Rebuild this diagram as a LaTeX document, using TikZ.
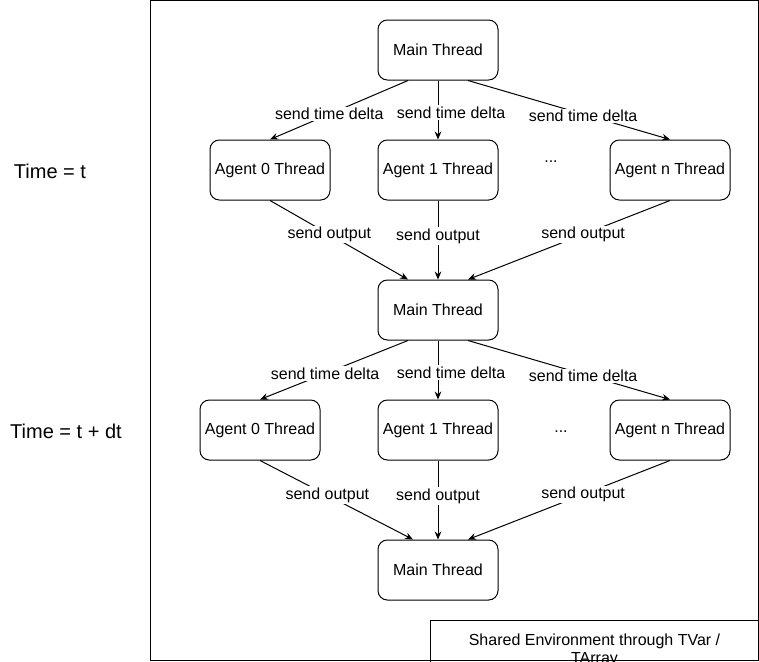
\documentclass[tikz,border=0pt]{standalone}
\usepackage{fontspec}
\setmainfont{Liberation Sans}
\usetikzlibrary{arrows.meta,calc}
\begin{document}
\begin{tikzpicture}[x=0.75pt,y=-0.75pt, line width=0.75pt,
  box/.style={draw, rounded corners=7pt, minimum width=90pt, minimum height=45pt, inner sep=0pt, font=\fontsize{12}{14}\selectfont},
  lbl/.style={fill=white, inner sep=1pt, font=\fontsize{12}{14}\selectfont},
  txt/.style={inner sep=0pt, font=\fontsize{12}{14}\selectfont},
  big/.style={inner sep=0pt, font=\fontsize{15}{18}\selectfont},
  arr/.style={-{Stealth[length=6pt,width=5pt]}},
  ]
\useasboundingbox (0,0) rectangle (759,661);
\draw (150.5,0.5) rectangle (758.5,660.5);

\node[big] (t1) at (50,171) {Time = t};
\node[big] (t2) at (66,431) {Time = t + dt};

\node[box] (m1) at (438,50) {Main Thread};
\node[box] (a10) at (270,170) {Agent 0 Thread};
\node[box] (a11) at (438,170) {Agent 1 Thread};
\node[box] (a1n) at (670,170) {Agent n Thread};
\node[txt] (d1) at (551,162) {...};
\node[box] (m2) at (438,310) {Main Thread};
\node[box] (a20) at (260,430) {Agent 0 Thread};
\node[box] (a21) at (438,430) {Agent 1 Thread};
\node[box] (a2n) at (670,430) {Agent n Thread};
\node[txt] (d2) at (561,432) {...};
\node[box] (m3) at (438,570) {Main Thread};

\draw[arr] ($(m1.south)+(-30,0)$) -- node[lbl,pos=0.57]{send time delta} (a10.north);
\draw[arr] (m1.south) -- node[lbl,pos=0.54,xshift=9.75pt]{send time delta} (a11.north);
\draw[arr] ($(m1.south)+(30,0)$) -- node[lbl,pos=0.57,yshift=-1.5pt]{send time delta} (a1n.north);

\draw[arr] (a10.south) -- node[lbl,pos=0.43]{send output} ($(m2.north)+(-30,0)$);
\draw[arr] (a11.south) -- node[lbl,pos=0.45]{send output} (m2.north);
\draw[arr] (a1n.south) -- node[lbl,pos=0.43]{send output} ($(m2.north)+(30,0)$);

\draw[arr] ($(m2.south)+(-30,0)$) -- node[lbl,pos=0.56]{send time delta} (a20.north);
\draw[arr] (m2.south) -- node[lbl,pos=0.54,xshift=9.75pt]{send time delta} (a21.north);
\draw[arr] ($(m2.south)+(30,0)$) -- node[lbl,pos=0.57,yshift=-1.5pt]{send time delta} (a2n.north);

\draw[arr] (a20.south) -- node[lbl,pos=0.44]{send output} ($(m3.north)+(-25,0)$);
\draw[arr] (a21.south) -- node[lbl,pos=0.45]{send output} (m3.north);
\draw[arr] (a2n.south) -- node[lbl,pos=0.43]{send output} ($(m3.north)+(30,0)$);

\begin{scope}
  \clip (0,0) rectangle (759,661);
  \draw (430.5,620.5) rectangle (790,700);
  \node[align=center, inner sep=0pt, font=\fontsize{12}{14}\selectfont] (env) at (594.5,650.5) {Shared Environment through TVar /\\TArray};
\end{scope}
\end{tikzpicture}
\end{document}
